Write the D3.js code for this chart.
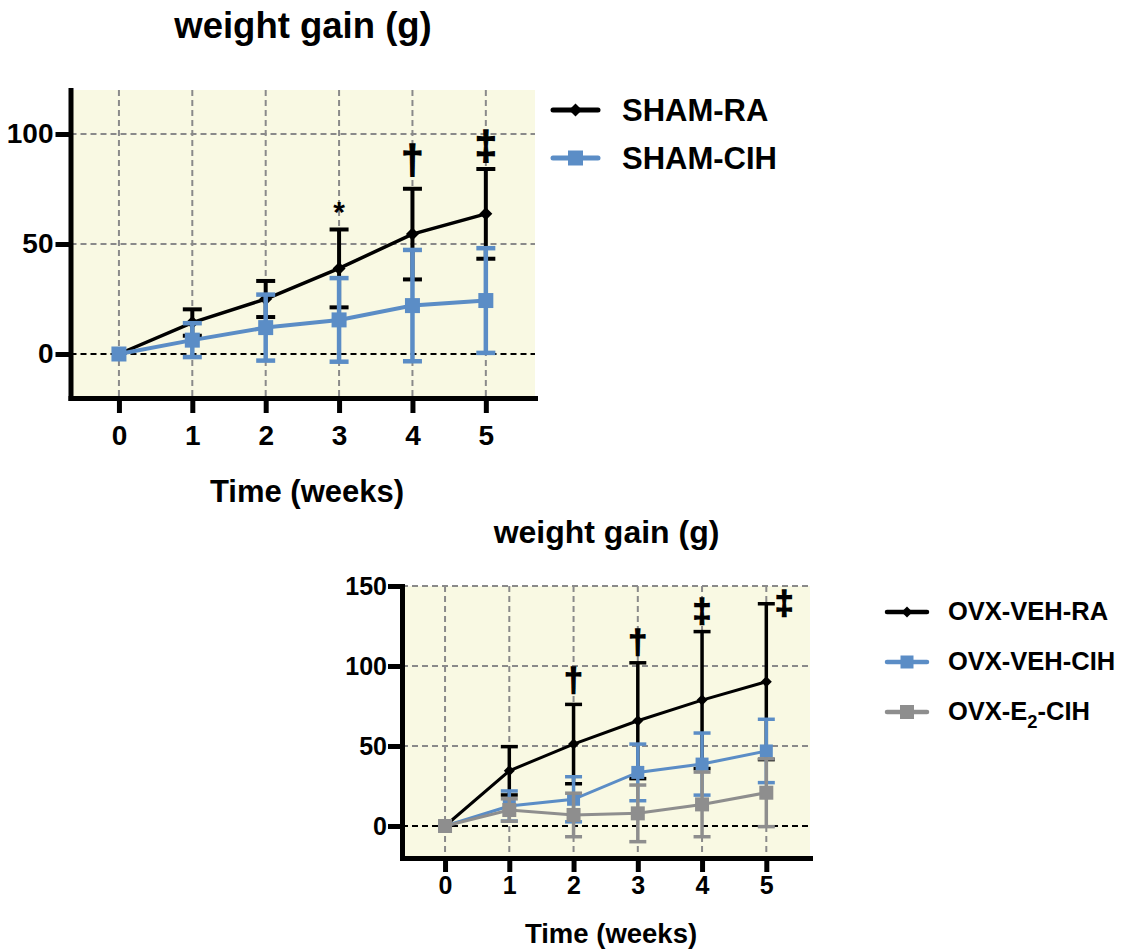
<!DOCTYPE html>
<html>
<head>
<meta charset="utf-8">
<script src="https://cdn.jsdelivr.net/npm/d3@7"></script>
<style>
  html, body { margin: 0; padding: 0; background: #ffffff; }
  svg { display: block; }
  text { font-family: "Liberation Sans", Arial, Helvetica, sans-serif; font-weight: bold; fill: #000; }
</style>
</head>
<body>
<svg id="chart" width="1138" height="949"></svg>
<script>
// ---------------- data ----------------
const weeks = [0, 1, 2, 3, 4, 5];

// Panel 1 (SHAM)
const shamRA_mean = [0, 14.3, 25.0, 38.9, 54.5, 63.7];
const shamRA_sd   = [0, 6.0, 8.2, 17.7, 20.6, 20.4];
const shamCIH_mean = [0, 6.3, 12.0, 15.5, 22.0, 24.3];
const shamCIH_sd   = [0, 7.7, 15.0, 19.0, 25.3, 23.8];
const sham_sig  = ["", "", "", "*", "\u2020", "\u2021"];
const sham_sigX = [0, 1, 2, 3, 4, 5];
const sham_sigY = [0, 0, 0, 59.9, 81.9, 88.2];
const sham_yTicks = [0, 50, 100];

// Panel 2 (OVX)
const ovxRA_mean = [0, 34.5, 51.2, 65.8, 78.7, 90.2];
const ovxRA_sd   = [0, 15.1, 24.8, 36.2, 42.8, 48.7];
const ovxCIH_mean = [0, 12.5, 16.7, 33.5, 38.7, 46.9];
const ovxCIH_sd   = [0, 9.4, 14.1, 17.7, 19.4, 19.8];
const ovxE2_mean = [0, 10.0, 6.9, 7.9, 13.5, 20.8];
const ovxE2_sd   = [0, 7.0, 13.6, 17.7, 20.2, 21.2];
const ovx_sig  = ["", "", "\u2020", "\u2020", "\u2021", "\u2021"];
const ovx_sigX = [0, 1, 2, 3, 4, 5.28];
const ovx_sigY = [0, 0, 84.1, 108.4, 127.2, 132.2];
const ovx_yTicks = [0, 50, 100, 150];

const titleText = "weight gain (g)";
const xAxisTitle = "Time (weeks)";

// ---------------- drawing ----------------
const svg = d3.select("#chart");
const BLUE = "#5b8dc6", GRAY = "#8e8e8e", BLACK = "#000";

function markerPath(kind, ms) {
  return kind === "diamond"
    ? `M0,${-ms / 2}L${ms / 2},0L0,${ms / 2}L${-ms / 2},0Z`
    : `M${-ms / 2},${-ms / 2}h${ms}v${ms}h${-ms}Z`;
}

function drawPanel(p) {
  const g = svg.append("g");
  const x = d3.scaleLinear().domain(p.xDomain).range([p.left, p.right]);
  const y = d3.scaleLinear().domain(p.yDomain).range([p.bottom, p.top]);

  // background
  g.append("rect").attr("x", p.left).attr("y", p.top)
    .attr("width", p.right - p.left).attr("height", p.bottom - p.top)
    .attr("fill", "#f9f9e3");

  // grid
  g.selectAll(".vgrid").data(weeks).join("line")
    .attr("x1", d => x(d)).attr("x2", d => x(d))
    .attr("y1", p.top).attr("y2", p.bottom)
    .attr("stroke", "#8a8a8a").attr("stroke-width", 2).attr("stroke-dasharray", "6,4");
  g.selectAll(".hgrid").data(p.yTicks.filter(d => d !== 0)).join("line")
    .attr("x1", p.left).attr("x2", p.right)
    .attr("y1", d => y(d)).attr("y2", d => y(d))
    .attr("stroke", "#8a8a8a").attr("stroke-width", 2).attr("stroke-dasharray", "6,4");
  g.append("line").attr("x1", p.left).attr("x2", p.right)
    .attr("y1", y(0)).attr("y2", y(0))
    .attr("stroke", "#000").attr("stroke-width", 2.2).attr("stroke-dasharray", "6,4");

  // series
  p.series.forEach(s => {
    const pts = weeks.map((w, i) => ({ w, m: s.mean[i], sd: s.sd[i] }));
    const eb = g.append("g");
    pts.filter(d => d.sd > 0).forEach(d => {
      eb.append("line").attr("x1", x(d.w)).attr("x2", x(d.w))
        .attr("y1", y(d.m - d.sd)).attr("y2", y(d.m + d.sd))
        .attr("stroke", s.color).attr("stroke-width", s.ebw);
      [d.m - d.sd, d.m + d.sd].forEach(v => {
        eb.append("line").attr("x1", x(d.w) - s.cap / 2).attr("x2", x(d.w) + s.cap / 2)
          .attr("y1", y(v)).attr("y2", y(v))
          .attr("stroke", s.color).attr("stroke-width", s.ebw);
      });
    });
    g.append("path").datum(pts)
      .attr("d", d3.line().x(d => x(d.w)).y(d => y(d.m)))
      .attr("fill", "none").attr("stroke", s.color).attr("stroke-width", s.lw);
    g.selectAll(null).data(pts).join("path")
      .attr("transform", d => `translate(${x(d.w)},${y(d.m)})`)
      .attr("d", markerPath(s.marker, s.ms))
      .attr("fill", s.color);
  });

  // significance marks
  p.sig.forEach((t, i) => {
    if (!t) return;
    const tx = g.append("text").attr("x", x(p.sigX[i])).attr("y", y(p.sigY[i]))
      .attr("text-anchor", "middle")
      .style("font-size", (t === "*" ? p.sigFont : p.dagFont) + "px").text(t);
    if (t !== "*") tx.attr("stroke", "#000").attr("stroke-width", 1.3);
  });

  // axes
  const yAxis = d3.axisLeft(y).tickValues(p.yTicks).tickSize(p.tick).tickSizeOuter(0).tickPadding(p.yPad)
    .tickFormat(d3.format("d"));
  const ya = g.append("g").attr("transform", `translate(${p.left},0)`).call(yAxis);
  const xAxis = d3.axisBottom(x).tickValues(weeks).tickSize(p.tick).tickSizeOuter(0).tickPadding(p.xPad)
    .tickFormat(d3.format("d"));
  const xa = g.append("g").attr("transform", `translate(0,${p.bottom})`).call(xAxis);
  [ya, xa].forEach(a => {
    a.select(".domain").attr("stroke", "#000").attr("stroke-width", p.axw).attr("stroke-linecap", "square");
    a.selectAll(".tick line").attr("stroke", "#000").attr("stroke-width", p.axw);
    a.selectAll(".tick text").style("font-size", p.tickFont + "px").attr("fill", "#000")
      .style("font-family", "'Liberation Sans', Arial, sans-serif").style("font-weight", "bold");
  });

  // titles
  svg.append("text").attr("x", p.titleX).attr("y", p.titleY).attr("text-anchor", "middle")
    .style("font-size", p.titleFont + "px").text(titleText);
  svg.append("text").attr("x", p.xtX).attr("y", p.xtY).attr("text-anchor", "middle")
    .style("font-size", p.xtFont + "px").text(xAxisTitle);

  // legend
  p.series.forEach((s, i) => {
    const ly = p.legY + i * p.legStep;
    const lg = svg.append("g");
    lg.append("line").attr("x1", p.legX).attr("x2", p.legX + p.legLen).attr("y1", ly).attr("y2", ly)
      .attr("stroke", s.color).attr("stroke-width", p.legLw).attr("stroke-linecap", "round");
    const cx = p.legX + p.legLen / 2;
    lg.append("path").attr("transform", `translate(${cx},${ly})`)
      .attr("d", markerPath(s.marker, s.legMs))
      .attr("fill", s.color);
    const t = lg.append("text").attr("x", p.legTextX).attr("y", ly + p.legBase)
      .style("font-size", p.legFont + "px");
    s.label.forEach(part => {
      const ts = t.append("tspan").text(part.t);
      if (part.sub) ts.attr("dy", p.legFont * 0.3).style("font-size", (p.legFont * 0.72) + "px");
      if (part.after) ts.attr("dy", -p.legFont * 0.3);
    });
  });
}

drawPanel({
  left: 70.5, right: 535, top: 90, bottom: 398,
  xDomain: [-0.66, 5.67], yDomain: [-20, 120], yTicks: sham_yTicks,
  tick: 15, yPad: 2, xPad: 12, axw: 5, tickFont: 28,
  sig: sham_sig, sigX: sham_sigX, sigY: sham_sigY, sigFont: 30, dagFont: 40,
  titleX: 303, titleY: 38, titleFont: 36.5,
  xtX: 307, xtY: 502, xtFont: 31,
  legX: 553, legLen: 45, legY: 110, legStep: 48, legTextX: 622, legBase: 11, legFont: 31, legLw: 5,
  series: [
    { label: [{ t: "SHAM-RA" }], mean: shamRA_mean, sd: shamRA_sd, color: BLACK, marker: "diamond", ms: 13, lw: 3.5, ebw: 4, cap: 19, legMs: 13 },
    { label: [{ t: "SHAM-CIH" }], mean: shamCIH_mean, sd: shamCIH_sd, color: BLUE, marker: "square", ms: 15, lw: 4, ebw: 4.5, cap: 19, legMs: 15 }
  ]
});

drawPanel({
  left: 402, right: 810, top: 586, bottom: 858,
  xDomain: [-0.67, 5.68], yDomain: [-20, 150], yTicks: ovx_yTicks,
  tick: 14, yPad: 1, xPad: 4, axw: 5, tickFont: 25,
  sig: ovx_sig, sigX: ovx_sigX, sigY: ovx_sigY, sigFont: 27, dagFont: 34,
  titleX: 606.5, titleY: 543, titleFont: 32,
  xtX: 611, xtY: 943, xtFont: 27.5,
  legX: 887, legLen: 40, legY: 612, legStep: 50, legTextX: 948, legBase: 8, legFont: 25.5, legLw: 4.5,
  series: [
    { label: [{ t: "OVX-VEH-RA" }], mean: ovxRA_mean, sd: ovxRA_sd, color: BLACK, marker: "diamond", ms: 11, lw: 3, ebw: 3.5, cap: 17, legMs: 11 },
    { label: [{ t: "OVX-VEH-CIH" }], mean: ovxCIH_mean, sd: ovxCIH_sd, color: BLUE, marker: "square", ms: 13, lw: 3, ebw: 3.5, cap: 17, legMs: 13 },
    { label: [{ t: "OVX-E" }, { t: "2", sub: true }, { t: "-CIH", after: true }], mean: ovxE2_mean, sd: ovxE2_sd, color: GRAY, marker: "square", ms: 14, lw: 3, ebw: 3.5, cap: 17, legMs: 14 }
  ]
});
</script>
</body>
</html>
